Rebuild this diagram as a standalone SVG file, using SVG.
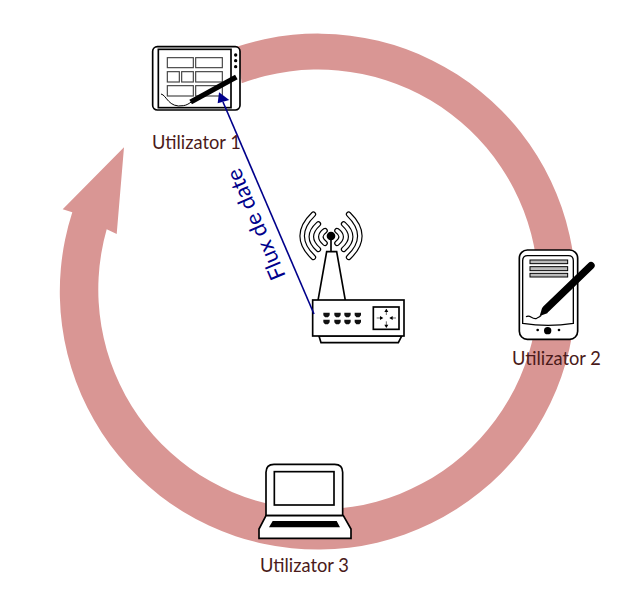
<svg xmlns="http://www.w3.org/2000/svg" width="641" height="613" viewBox="0 0 641 613">
<style>
.lbl{font-family:"Lato","Open Sans",sans-serif;font-size:18.3px;fill:#4a1a1a}
.o{fill:#fff;stroke:#000;stroke-width:5}
.t{fill:#fff;stroke:#000;stroke-width:4}
.c{fill:#fff;stroke:#444;stroke-width:3.5}
.w{fill:none;stroke-linecap:round}
</style>
<rect width="641" height="613" fill="#fff"/>
<path id="ring" fill="#d99694" d="M236.7 46.7A258 258 0 1 1 72.3 212.3L62.7 209.3L124 147.3L116.7 234L106.7 229.3A220 220 0 1 0 241.7 83.3Z"/>
<g id="tablet" transform="translate(130 30) scale(.33333)">
<rect class="o" x="68" y="50" width="262" height="190" rx="14"/>
<rect class="o" x="85" y="58" width="218" height="175"/>
<rect class="c" x="112" y="83" width="78" height="30"/>
<rect class="c" x="197" y="83" width="80" height="30"/>
<rect class="c" x="112" y="125" width="36" height="31"/>
<rect class="c" x="155" y="125" width="35" height="31"/>
<rect class="c" x="197" y="125" width="80" height="31"/>
<rect class="c" x="112" y="167" width="78" height="31"/>
<rect class="c" x="197" y="167" width="80" height="31"/>
<circle cx="317" cy="75" r="5"/><circle cx="317" cy="92" r="5"/><circle cx="317" cy="110" r="5"/>
<path d="M319 141L182 216" stroke="#000" stroke-width="16" fill="none"/>
<path d="M93 192C110 195 115 235 160 227C170 226 178 220 185 215" fill="none" stroke="#000" stroke-width="3"/>
</g>
<g id="router" transform="translate(290 200) scale(.33333)">
<g class="w" stroke="#000" stroke-width="17">
<path d="M70 43Q3 108 70 172"/><path d="M176 43Q243 108 176 172"/>
<path d="M85 72Q43 110 85 148"/><path d="M161 72Q203 110 161 148"/>
<path d="M105 92Q80 110 105 130"/><path d="M141 92Q166 110 141 130"/>
</g>
<g class="w" stroke="#fff" stroke-width="10">
<path d="M70 43Q3 108 70 172"/><path d="M176 43Q243 108 176 172"/>
<path d="M85 72Q43 110 85 148"/><path d="M161 72Q203 110 161 148"/>
<path d="M105 92Q80 110 105 130"/><path d="M141 92Q166 110 141 130"/>
</g>
<path d="M123 108V155" stroke="#000" stroke-width="5"/>
<circle cx="123" cy="108" r="13"/>
<polygon class="o" points="83,307 110,155 140,155 167,307"/>
<polygon class="o" points="87,408 335,408 325,428 93,428"/>
<rect class="o" x="68" y="300" width="274" height="108"/>
<g fill="#111">
<path d="M100 338h19v8l-5 6h-9l-5-6zM133 338h19v8l-5 6h-9l-5-6zM163 338h19v8l-5 6h-9l-5-6zM194 338h19v8l-5 6h-9l-5-6z"/>
<path d="M100 359h19v8l-5 6h-9l-5-6zM133 359h19v8l-5 6h-9l-5-6zM163 359h19v8l-5 6h-9l-5-6zM194 359h19v8l-5 6h-9l-5-6z"/>
</g>
<rect class="o" x="250" y="321" width="77" height="67"/>
<path d="M289 345V328M289 364V381M276 354H260M302 354H318" stroke="#666" stroke-width="3"/>
<path d="M289 326l-6 10h12zM289 384l-6-10h12zM280 354l-10-6v12zM298 354l10-6v12z"/>
</g>
<g id="pda" transform="translate(500 240) scale(.33333)">
<rect class="o" x="58" y="30" width="175" height="268" rx="24"/>
<path class="t" d="M68 62Q68 47 83 47H205Q220 47 220 62V250Q145 262 68 250Z"/>
<rect x="90" y="60" width="113" height="11" fill="#bbb" stroke="#000" stroke-width="3"/>
<rect x="90" y="80" width="113" height="12" fill="#bbb" stroke="#000" stroke-width="3"/>
<rect x="90" y="100" width="113" height="11" fill="#bbb" stroke="#000" stroke-width="3"/>
<path d="M273 77L138 207" stroke="#000" stroke-width="22" stroke-linecap="round" fill="none"/>
<path d="M148 196L126 205L119 228L142 220Z"/>
<path d="M78 230C92 222 95 240 110 235C116 232 120 230 124 226" fill="none" stroke="#000" stroke-width="3.5"/>
<circle cx="143" cy="272" r="11"/><circle cx="113" cy="270" r="4"/><circle cx="177" cy="270" r="4"/>
</g>
<g id="laptop" transform="translate(250 455) scale(.33333)">
<path class="o" d="M48 182V52Q48 28 72 28H254Q278 28 278 52V182Z"/>
<rect class="o" x="73" y="50" width="179" height="100"/>
<path class="o" d="M48 182H280L303 222V250H27V222Z"/>
<path d="M68 198H260L270 217H57Z"/>
</g>
<g id="connectors">
<line x1="314" y1="314" x2="223" y2="102" stroke="#00008b" stroke-width="1.6"/>
<polygon points="219,92.3 217.7,103.3 229.3,100" fill="#00008b"/>
</g>
<text class="lbl" x="152" y="149">Utilizator 1</text>
<text class="lbl" x="512" y="365">Utilizator 2</text>
<text class="lbl" x="260" y="572">Utilizator 3</text>
<text transform="translate(286 276) rotate(-113)" font-family="Lato,'Open Sans',sans-serif" font-size="22" fill="#00008b">Flux de date</text>
</svg>
